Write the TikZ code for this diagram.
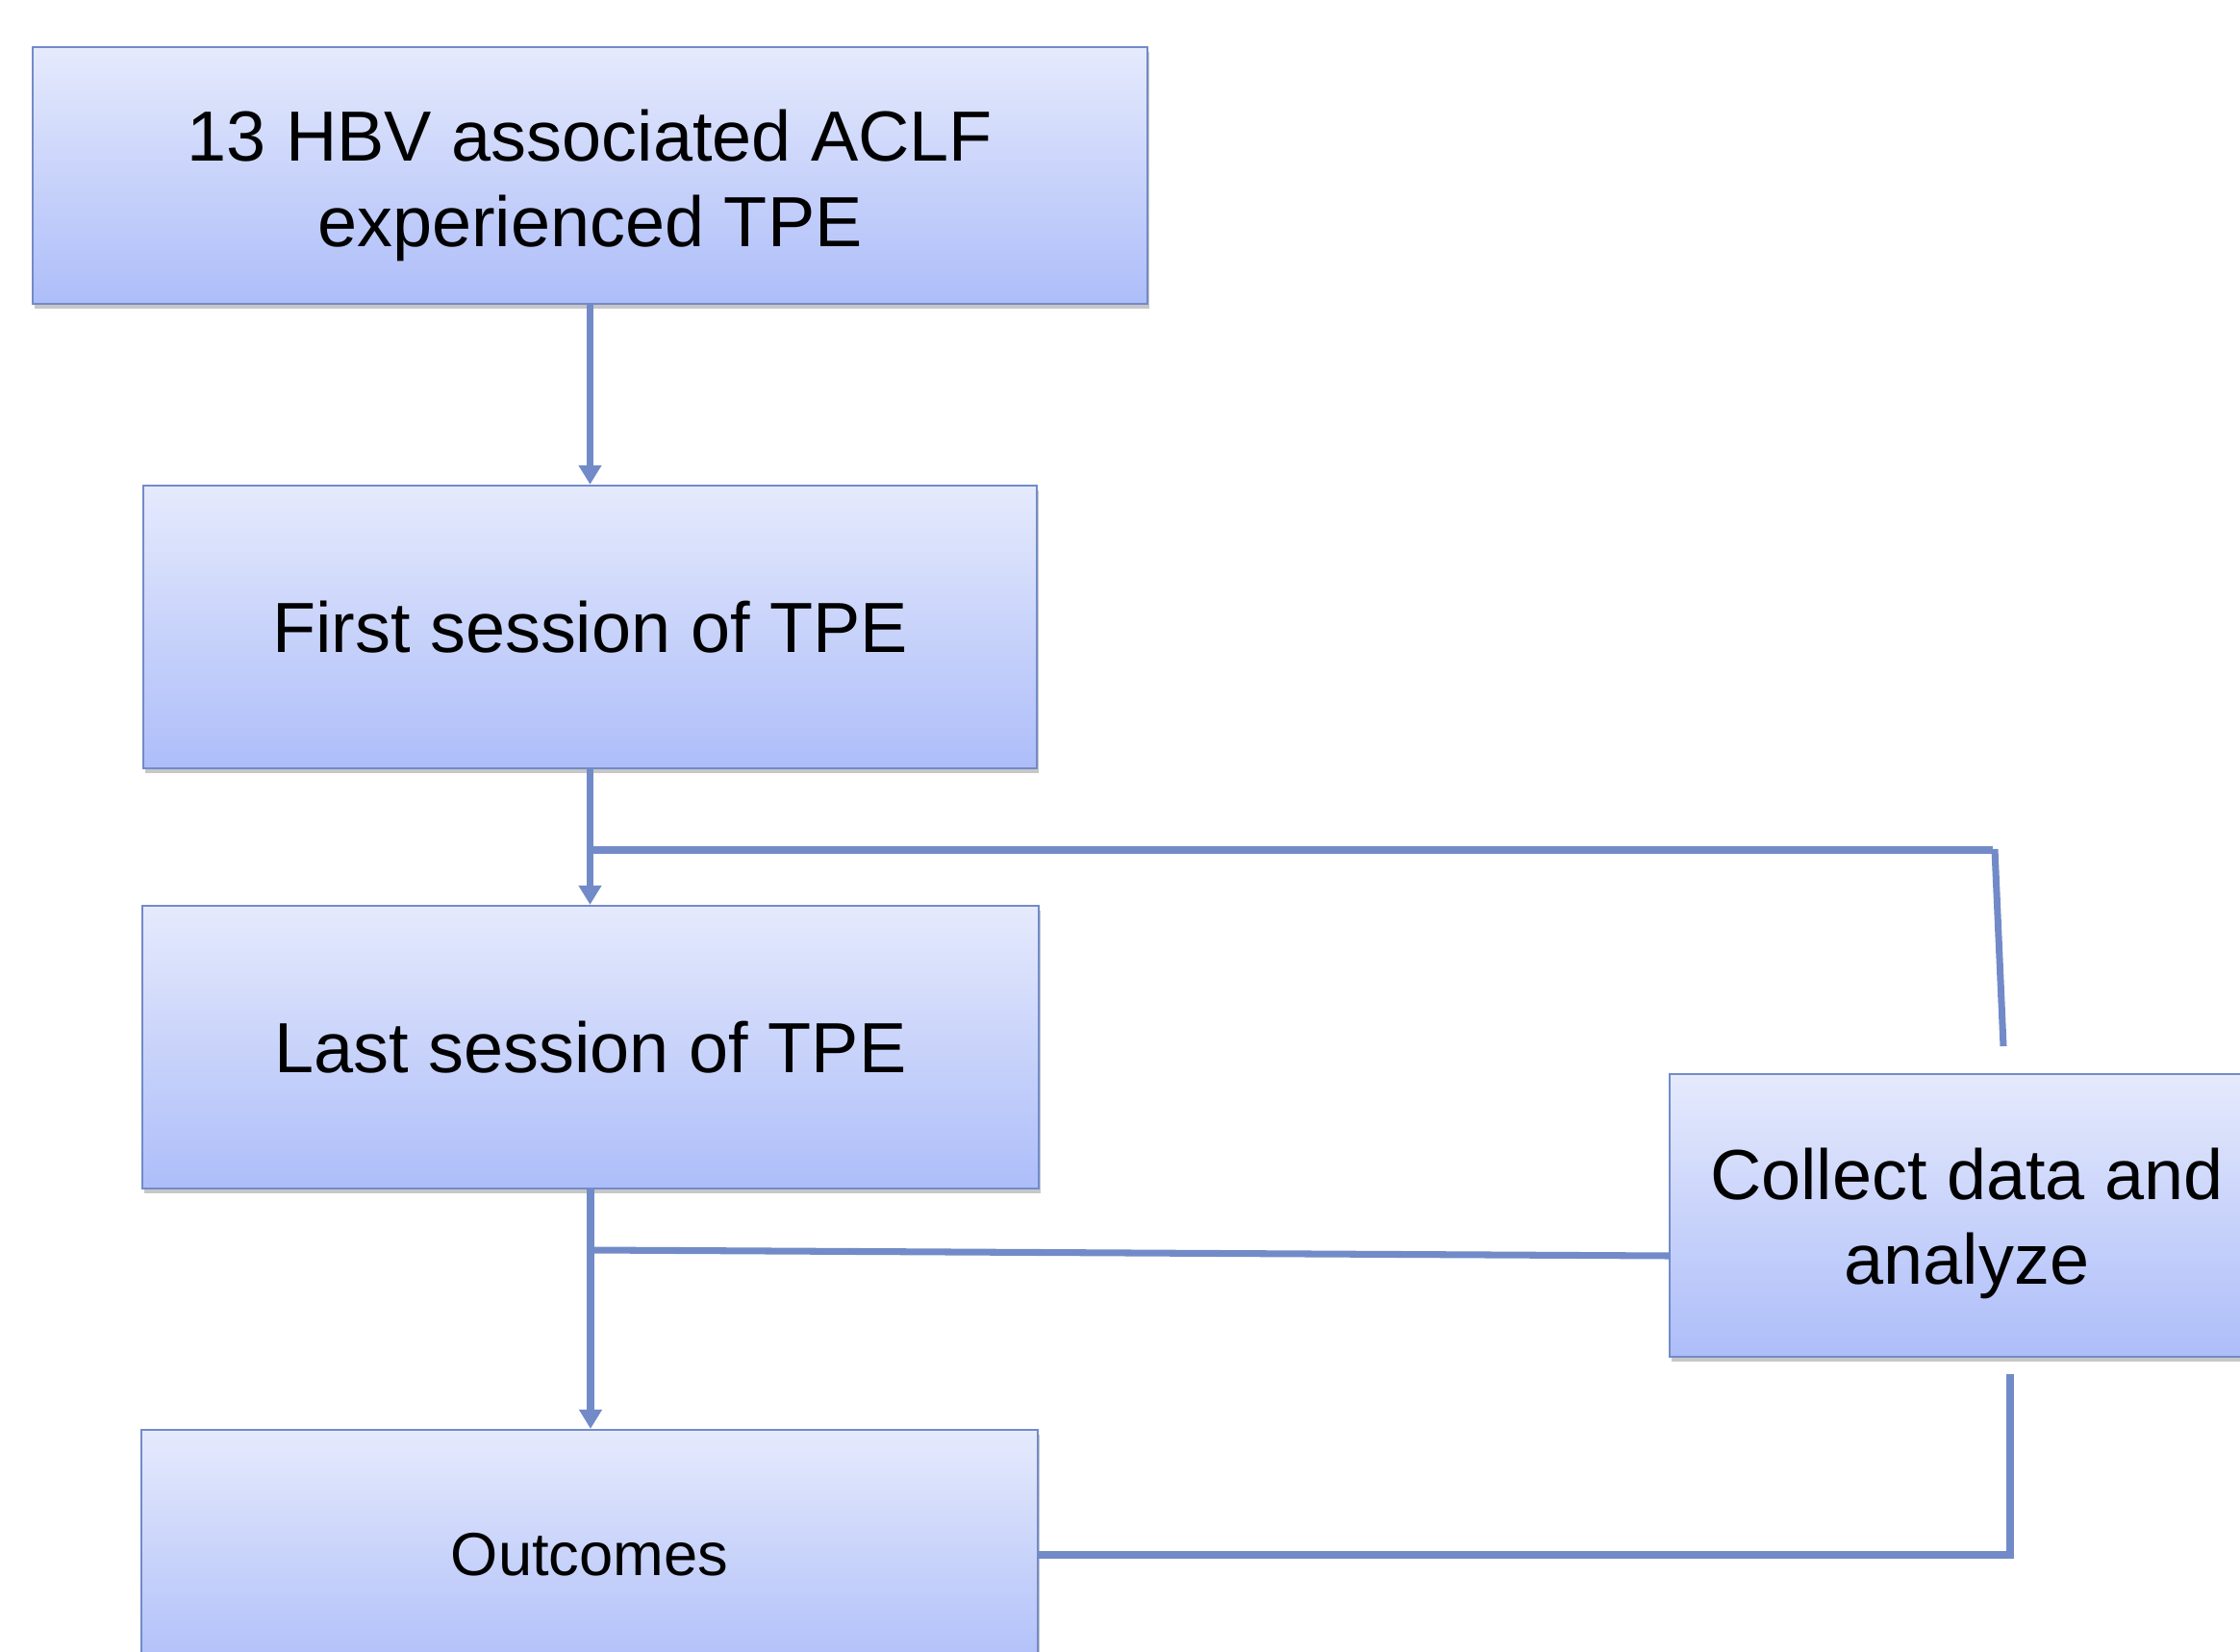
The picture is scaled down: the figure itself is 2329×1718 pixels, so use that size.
\documentclass[tikz,border=0pt]{standalone}
\usepackage{fontspec}
\setmainfont{Liberation Sans}
\usetikzlibrary{arrows.meta,shadows}
\definecolor{linkblue}{RGB}{114,139,200}
\definecolor{boxtop}{RGB}{229,234,252}
\definecolor{boxbot}{RGB}{173,189,249}
\begin{document}
\begin{tikzpicture}[x=0.01cm,y=-0.01cm,
		stage/.style={rectangle,draw=linkblue,line width=0.6pt,top color=boxtop,bottom color=boxbot,
			align=center,inner sep=0pt,font=\fontsize{21}{25.3}\selectfont,
			drop shadow={shadow xshift=0.6pt,shadow yshift=-1.4pt,fill=black,opacity=0.22}},
		link/.style={draw=linkblue,line width=2pt}]
		\useasboundingbox[fill=white] (0,0) rectangle (2329,1718);
		\node[stage,minimum width=11.59cm,minimum height=2.67cm,text height=46.2pt] (b1) at (613.5,182.5) {13 HBV associated ACLF\\experienced TPE};
		\node[stage,minimum width=9.29cm,minimum height=2.94cm] (b2) at (613.5,652) {First session of TPE};
		\node[stage,minimum width=9.31cm,minimum height=2.94cm] (b3) at (614,1089) {Last session of TPE};
		\node[stage,minimum width=9.31cm,minimum height=2.6cm,font=\fontsize{18}{21.6}\selectfont] (b4) at (613,1617) {Outcomes};
		\node[stage,minimum width=6.18cm,minimum height=2.94cm,text height=45.3pt] (b5) at (2045,1264) {Collect data and\\analyze};
		\coordinate (j1) at (613.5,884);
		\coordinate (c1) at (2072,884);
		\coordinate (c2) at (2074,883);
		\coordinate (c3) at (2083,1088);
		\coordinate (j2) at (613.5,1300);
		\coordinate (c4) at (1736,1306);
		\coordinate (c5) at (2090,1429);
		\foreach \a/\b in {b1/b2,b2/b3,b3/b4} {
			\draw[link,-{Triangle[width=6.5pt,length=5.7pt]}] (\a.south) -- (\a.south |- \b.north);
		}
		\draw[link] (j1) -- (c1);
		\draw[link] (c2) -- (c3);
		\draw[link] (j2) -- (c4);
		\draw[link] (c5) |- (b4.east);
	\end{tikzpicture}
\end{document}
